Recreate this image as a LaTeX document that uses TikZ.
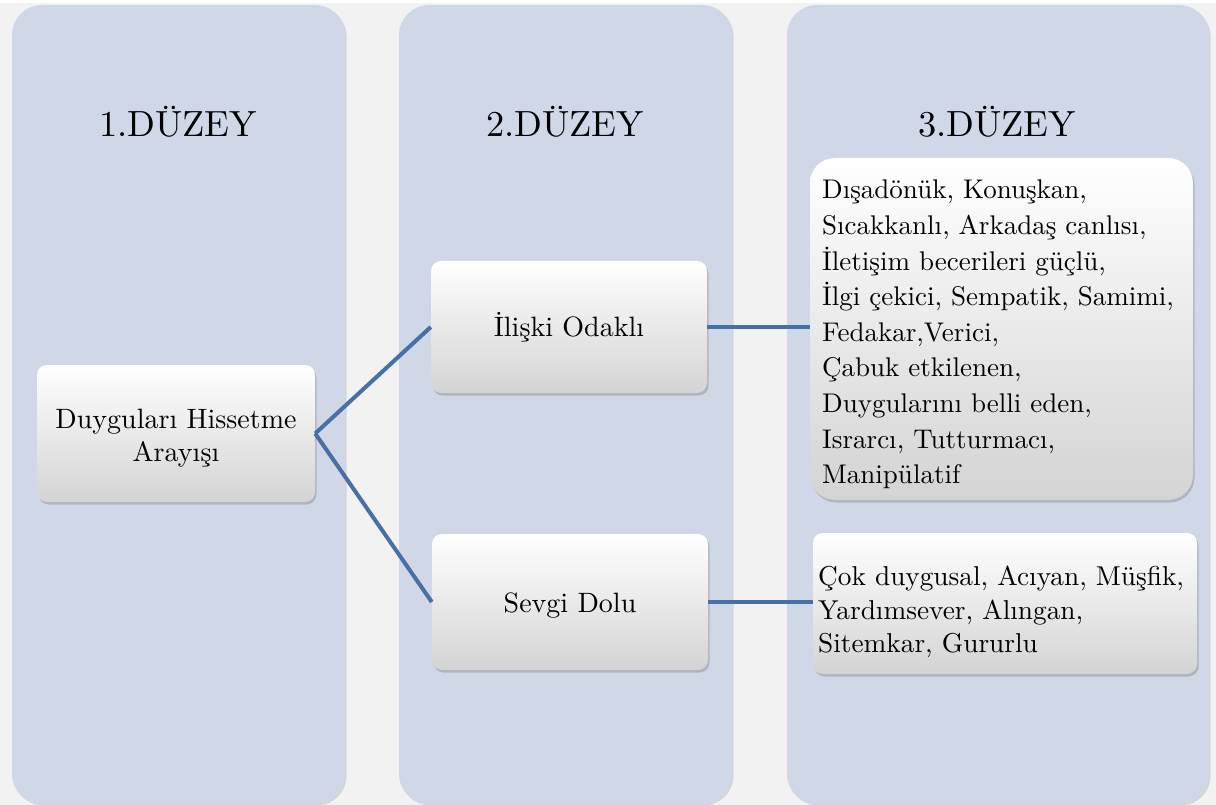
\documentclass[tikz,border=0pt]{standalone}
\usepackage{fontspec}
\setmainfont{lmroman10-regular}[Extension=.otf]
\usetikzlibrary{shadows}
\definecolor{bgc}{HTML}{F2F2F2}
\definecolor{colc}{HTML}{D0D8E8}
\definecolor{linec}{HTML}{4670A6}
\tikzset{
  column/.style={fill=colc, rounded corners=30pt,
    drop shadow={shadow xshift=1.5pt, shadow yshift=-1.5pt, opacity=0.25}},
  card/.style={rectangle, rounded corners=10pt, top color=white, middle color=white,
    bottom color=black!17, draw=none, inner sep=0pt,
    drop shadow={shadow xshift=1.5pt, shadow yshift=-2.5pt, opacity=0.4}},
  heading/.style={anchor=base, inner sep=0pt, font=\fontsize{36.4}{40}\selectfont},
  cardfont/.style={font=\fontsize{28}{33}\selectfont},
  bodytext/.style={font=\fontsize{27}{35.6}\selectfont, align=left, anchor=north west, inner sep=0pt},
  conn/.style={draw=linec, line width=4pt},
}
\begin{document}
\begin{tikzpicture}[x=1pt,y=-1pt]
\useasboundingbox (0,0) rectangle (1216,805);
\fill[white] (0,0) rectangle (1216,805);
\fill[bgc] (0,3) rectangle (1216,805);
% columns
\fill[column] (12,5) rectangle (345,804);
\fill[column] (399,5) rectangle (732,804);
\fill[column] (787,5) rectangle (1209,804);
% headings
\node[heading] (h1) at (178,137) {1.DÜZEY};
\node[heading] (h2) at (565,137) {2.DÜZEY};
\node[heading] (h3) at (997,137) {3.DÜZEY};
% cards
\node[card, minimum width=278pt, minimum height=137pt, cardfont, align=center] (a) at (176,433.5) {\rule{0pt}{29.5pt}Duyguları Hissetme\\Arayışı};
\node[card, minimum width=276pt, minimum height=132pt, cardfont] (b) at (569,327) {İlişki Odaklı};
\node[card, minimum width=276pt, minimum height=136pt, cardfont] (c) at (570,602) {\rule{0pt}{27.5pt}Sevgi Dolu};
\node[card, rounded corners=25pt, minimum width=383pt, minimum height=342pt] (d) at (1001.5,329) {};
\node[card, minimum width=384pt, minimum height=141pt] (e) at (1005,603.5) {};
\node[bodytext] (dt) at (822,180) {Dışadönük, Konuşkan,\\Sıcakkanlı, Arkadaş canlısı,\\İletişim becerileri güçlü,\\İlgi çekici, Sempatik, Samimi,\\Fedakar,Verici,\\Çabuk etkilenen,\\Duygularını belli eden,\\Israrcı, Tutturmacı,\\Manipülatif};
\node[bodytext, font=\fontsize{27.3}{33.5}\selectfont] (et) at (818,566) {Çok duygusal, Acıyan, Müşfik,\\Yardımsever, Alıngan,\\Sitemkar, Gururlu};
% connectors
\draw[conn] (a.east) -- (b.west);
\draw[conn] (a.east) -- (c.west);
\draw[conn] (b.east) -- (d.west |- b.east);
\draw[conn] (c.east) -- (e.west |- c.east);
\end{tikzpicture}
\end{document}
